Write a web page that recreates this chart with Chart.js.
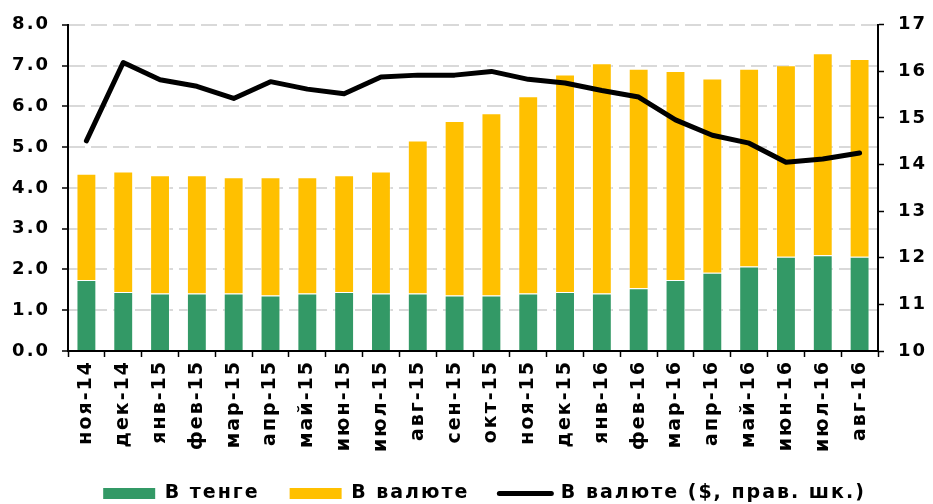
<!DOCTYPE html>
<html>
<head>
<meta charset="utf-8">
<script src="https://cdn.jsdelivr.net/npm/chart.js@4"></script>
<style>
  html, body { margin: 0; padding: 0; background: #fff; overflow: hidden; }
  #wrap { width: 933px; height: 504px; }
</style>
</head>
<body>
<div id="wrap"><canvas id="chart"></canvas></div>
<script>
const months = ['ноя-14', 'дек-14', 'янв-15', 'фев-15', 'мар-15', 'апр-15', 'май-15', 'июн-15', 'июл-15', 'авг-15', 'сен-15',
                'окт-15', 'ноя-15', 'дек-15', 'янв-16', 'фев-16', 'мар-16', 'апр-16', 'май-16', 'июн-16', 'июл-16', 'авг-16'];
const tenge = [1.74, 1.45, 1.41, 1.41, 1.41, 1.36, 1.41, 1.45, 1.41, 1.41, 1.36, 1.36, 1.41, 1.45, 1.41, 1.54, 1.74, 1.92, 2.07, 2.31, 2.35, 2.31];
const currency = [2.61, 2.95, 2.90, 2.90, 2.85, 2.90, 2.85, 2.86, 2.99, 3.75, 4.28, 4.47, 4.84, 5.33, 5.65, 5.38, 5.13, 4.76, 4.85, 4.70, 4.95, 4.85];
const currencyUsd = [14.51, 16.19, 15.82, 15.68, 15.42, 15.78, 15.62, 15.52, 15.88, 15.92, 15.92, 16.00, 15.83, 15.75, 15.59, 15.45, 14.96, 14.63, 14.46, 14.05, 14.12, 14.25];
const seriesNames = ['В тенге', 'В валюте', 'В валюте ($, прав. шк.)'];

const FONT = 'DejaVu Sans';
Chart.defaults.font.family = FONT;
Chart.defaults.font.weight = 'bold';
Chart.defaults.color = '#000';

// letter spacing on the canvas (state is reset whenever the canvas is resized)
const spacing = {
    id: 'spacing',
    beforeLayout(chart) { chart.ctx.letterSpacing = '2px'; },
    beforeDraw(chart) { chart.ctx.letterSpacing = '2px'; },
    // nudge the legend to the right like the original
    afterLayout(chart) { chart.legend.left += 18; chart.legend.right += 18; }
};

new Chart(document.getElementById('chart'), {
    type: 'bar',
    data: {
        labels: months,
        datasets: [
            {
                type: 'line',
                label: seriesNames[2],
                data: currencyUsd,
                yAxisID: 'y2',
                borderColor: '#000',
                borderWidth: 5,
                borderCapStyle: 'round',
                borderJoinStyle: 'round',
                pointRadius: 0,
                tension: 0,
                order: 0
            },
            {
                label: seriesNames[0],
                data: tenge,
                backgroundColor: '#339966',
                borderColor: 'rgba(255,255,255,0.45)',
                borderWidth: 1,
                categoryPercentage: 1,
                barPercentage: 0.54,
                order: 1
            },
            {
                label: seriesNames[1],
                data: currency,
                backgroundColor: '#ffc000',
                borderColor: 'rgba(255,255,255,0.45)',
                borderWidth: 1,
                categoryPercentage: 1,
                barPercentage: 0.54,
                order: 1
            }
        ]
    },
    options: {
        responsive: true,
        maintainAspectRatio: false,
        animation: false,
        layout: { padding: { top: 7, left: 0, right: 0, bottom: -9 } },
        plugins: {
            tooltip: { enabled: false },
            legend: {
                position: 'bottom',
                labels: {
                    font: { size: 19, weight: 'bold' },
                    color: '#000',
                    usePointStyle: true,
                    pointStyleWidth: 52,
                    boxHeight: 11,
                    padding: 30,
                    generateLabels: () => [
                        { text: seriesNames[0], fillStyle: '#339966', strokeStyle: '#339966', lineWidth: 0, pointStyle: 'rect', datasetIndex: 1 },
                        { text: seriesNames[1], fillStyle: '#ffc000', strokeStyle: '#ffc000', lineWidth: 0, pointStyle: 'rect', datasetIndex: 2 },
                        { text: seriesNames[2], fillStyle: '#000', strokeStyle: '#000', lineWidth: 5, lineCap: 'round', pointStyle: 'line', datasetIndex: 0 }
                    ]
                }
            }
        },
        scales: {
            x: {
                stacked: true,
                offset: true,
                grid: { display: true, drawOnChartArea: false, drawTicks: true, tickLength: 6, tickColor: '#000', tickWidth: 1.5, offset: true },
                border: { display: true, color: '#000', width: 2 },
                ticks: { minRotation: 90, maxRotation: 90, autoSkip: false, padding: 3, font: { size: 19, weight: 'bold' } },
                afterFit: s => { s.height = 103; }
            },
            y: {
                type: 'linear',
                stacked: true,
                position: 'left',
                min: 0,
                max: 8,
                ticks: { stepSize: 1, padding: 12, font: { size: 18, weight: 'bold' }, callback: v => v.toFixed(1) },
                grid: { display: true, drawOnChartArea: true, drawTicks: true, color: '#d9d9d9', lineWidth: 2, tickColor: '#000', tickLength: 6, tickWidth: 1.5 },
                border: { display: true, color: '#000', width: 2, dash: [16, 6] },
                afterFit: s => { s.width = 68; }
            },
            y2: {
                type: 'linear',
                position: 'right',
                min: 10,
                max: 17,
                ticks: { stepSize: 1, padding: 14, font: { size: 18, weight: 'bold' } },
                grid: { display: true, drawOnChartArea: false, drawTicks: true, tickColor: '#000', tickLength: 6, tickWidth: 1.5 },
                border: { display: true, color: '#000', width: 2 },
                afterFit: s => { s.width = 55; }
            }
        }
    },
    plugins: [spacing]
});
</script>
</body>
</html>
